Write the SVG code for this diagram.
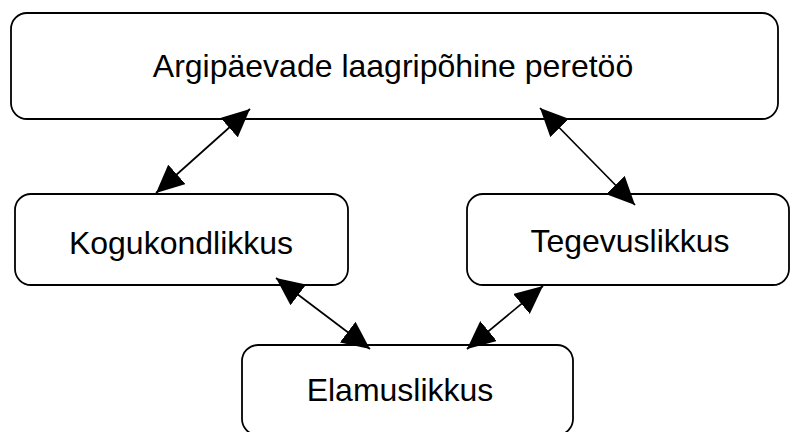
<svg xmlns="http://www.w3.org/2000/svg" width="790" height="432" viewBox="0 0 790 432">
<style>
.box{fill:#fff;stroke:#000;stroke-width:1.8}
.lbl{font-family:"Liberation Sans",Arial,sans-serif;font-size:32px;fill:#000;text-anchor:middle}
.conn{stroke:#000;stroke-width:1.7;fill:none;marker-start:url(#ah);marker-end:url(#ah)}
</style>
<defs>
<marker id="ah" markerUnits="userSpaceOnUse" markerWidth="28" markerHeight="26" refX="28" refY="13" orient="auto-start-reverse" viewBox="0 0 28 26">
<path d="M0,0 L28,13 L0,26 z" fill="#000"/>
</marker>
</defs>
<rect width="790" height="432" fill="#fff"/>
<g id="node-top">
<rect class="box" x="11" y="13" width="767" height="106" rx="16"/>
<text class="lbl" x="393" y="77">Argipäevade laagripõhine peretöö</text>
</g>
<g id="node-kogukondlikkus">
<rect class="box" x="15" y="194" width="333" height="91" rx="16"/>
<text class="lbl" x="181" y="254">Kogukondlikkus</text>
</g>
<g id="node-tegevuslikkus">
<rect class="box" x="467" y="194" width="322" height="91" rx="16"/>
<text class="lbl" x="630" y="252">Tegevuslikkus</text>
</g>
<g id="node-elamuslikkus">
<rect class="box" x="242" y="345" width="331" height="90" rx="16"/>
<text class="lbl" x="400" y="401">Elamuslikkus</text>
</g>
<g id="connectors">
<line class="conn" x1="250" y1="109" x2="156" y2="193"/>
<line class="conn" x1="540" y1="108" x2="635" y2="205"/>
<line class="conn" x1="276" y1="278" x2="370" y2="349"/>
<line class="conn" x1="543" y1="286" x2="467" y2="349"/>
</g>
</svg>
